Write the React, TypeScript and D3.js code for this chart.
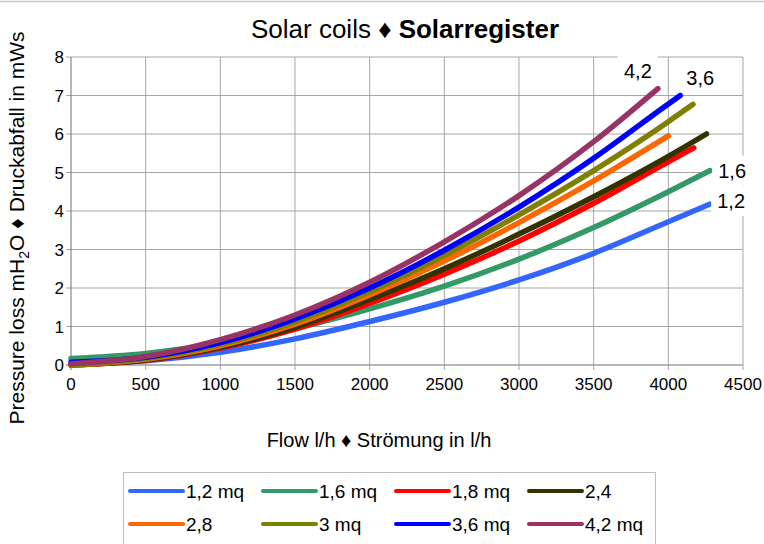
import React from 'react';
import * as d3 from 'd3';

// ---- data ----
const seriesNames = ['1,2 mq', '1,6 mq', '1,8 mq', '2,4', '2,8', '3 mq', '3,6 mq', '4,2 mq'];
const seriesColors = ['#3366FF', '#339966', '#FF0000', '#333300', '#FF6600', '#808000', '#0000FF', '#993366'];

const flow_1_2 = [0, 500, 1000, 1500, 2000, 2500, 3000, 3500, 4000, 4280];
const loss_1_2 = [0.02, 0.11, 0.33, 0.68, 1.13, 1.63, 2.21, 2.9, 3.72, 4.18];

const flow_1_6 = [0, 500, 1000, 1500, 2000, 2500, 3000, 3500, 4000, 4280];
const loss_1_6 = [0.17, 0.3, 0.57, 0.95, 1.46, 2.05, 2.75, 3.57, 4.5, 5.05];

const flow_1_8 = [0, 500, 1000, 1500, 2000, 2500, 3000, 3500, 4000, 4170];
const loss_1_8 = [0.0, 0.12, 0.44, 0.93, 1.6, 2.36, 3.22, 4.2, 5.28, 5.64];

const flow_2_4 = [0, 500, 1000, 1500, 2000, 2500, 3000, 3500, 4000, 4255];
const loss_2_4 = [0.0, 0.13, 0.46, 0.98, 1.7, 2.5, 3.4, 4.37, 5.42, 6.0];

const flow_2_8 = [0, 500, 1000, 1500, 2000, 2500, 3000, 3500, 4000];
const loss_2_8 = [0.0, 0.15, 0.5, 1.06, 1.82, 2.7, 3.7, 4.78, 5.95];

const flow_3 = [0, 500, 1000, 1500, 2000, 2500, 3000, 3500, 4000, 4165];
const loss_3 = [0.0, 0.17, 0.54, 1.12, 1.9, 2.84, 3.9, 5.05, 6.32, 6.77];

const flow_3_6 = [0, 500, 1000, 1500, 2000, 2500, 3000, 3500, 4000, 4080];
const loss_3_6 = [0.07, 0.2, 0.58, 1.2, 2.0, 2.98, 4.1, 5.37, 6.78, 7.0];

const flow_4_2 = [0, 500, 1000, 1500, 2000, 2500, 3000, 3500, 3930];
const loss_4_2 = [0.03, 0.22, 0.66, 1.3, 2.15, 3.2, 4.4, 5.8, 7.18];

const seriesFlows = [flow_1_2, flow_1_6, flow_1_8, flow_2_4, flow_2_8, flow_3, flow_3_6, flow_4_2];
const seriesLosses = [loss_1_2, loss_1_6, loss_1_8, loss_2_4, loss_2_8, loss_3, loss_3_6, loss_4_2];

const xTicks = [0, 500, 1000, 1500, 2000, 2500, 3000, 3500, 4000, 4500];
const yTicks = [0, 1, 2, 3, 4, 5, 6, 7, 8];

// end labels: series index and text
const endLabelSeries = [7, 6, 1, 0];
const endLabelTexts = ['4,2', '3,6', '1,6', '1,2'];
const endLabelOffsets = [[-20, -18], [20, -18], [22, 0], [21, -3]];

const W = 764;
const H = 544;
const FONT = 'Liberation Sans, Arial, Helvetica, sans-serif';

export default function App() {
  const x = d3.scaleLinear().domain([0, 4500]).range([71, 743]);
  const y = d3.scaleLinear().domain([0, 8]).range([365, 57]);

  const line = d3
    .line<[number, number]>()
    .x((d) => x(d[0]))
    .y((d) => y(d[1]))
    .curve(d3.curveMonotoneX);

  const series = seriesNames.map((name, i) => ({
    name,
    color: seriesColors[i],
    pts: seriesFlows[i].map((f, j) => [f, seriesLosses[i][j]] as [number, number]),
  }));

  const legendCols = [130, 263, 396, 529];
  const legendRows = [491, 524];

  return (
    <svg
      width={W}
      height={H}
      style={{ position: 'absolute', left: 0, top: 0, background: '#fff' }}
      fontFamily={FONT}
    >
      <rect x={0} y={0} width={W} height={H} fill="#fff" />
      <line x1={0} x2={W} y1={1.5} y2={1.5} stroke="#c8c8c8" strokeWidth={1.5} />

      {/* gridlines */}
      {yTicks.map((t) => (
        <line key={'gy' + t} x1={66} x2={743} y1={y(t)} y2={y(t)} stroke={t === 0 ? '#6e6e6e' : '#a6a6a6'} strokeWidth={1} />
      ))}
      {xTicks.map((t) => (
        <line key={'gx' + t} x1={x(t)} x2={x(t)} y1={57} y2={370} stroke={t === 0 ? '#6e6e6e' : '#a6a6a6'} strokeWidth={1} />
      ))}

      {/* tick labels */}
      {yTicks.map((t) => (
        <text key={'ty' + t} x={64} y={y(t) + 6} textAnchor="end" fontSize={17} fill="#000">
          {t}
        </text>
      ))}
      {xTicks.map((t) => (
        <text key={'tx' + t} x={x(t)} y={390} textAnchor="middle" fontSize={17} fill="#000">
          {t}
        </text>
      ))}

      {/* series */}
      {series.map((s) => (
        <path
          key={s.name}
          d={line(s.pts) || ''}
          fill="none"
          stroke={s.color}
          strokeWidth={5.5}
          strokeLinecap="round"
          strokeLinejoin="round"
        />
      ))}

      {/* end labels */}
      {endLabelSeries.map((si, k) => {
        const pts = series[si].pts;
        const last = pts[pts.length - 1];
        const cx = x(last[0]) + endLabelOffsets[k][0];
        const cy = y(last[1]) + endLabelOffsets[k][1];
        return (
          <g key={'el' + k}>
            <rect x={cx - 20} y={cy - 15} width={40} height={30} fill="#fff" />
            <text x={cx} y={cy + 7} textAnchor="middle" fontSize={20} fill="#000">
              {endLabelTexts[k]}
            </text>
          </g>
        );
      })}

      {/* title */}
      <text x={405} y={38} textAnchor="middle" fontSize={26} fill="#000">
        <tspan>Solar coils ♦ </tspan>
        <tspan fontWeight="bold">Solarregister</tspan>
      </text>

      {/* axis titles */}
      <text x={379} y={447} textAnchor="middle" fontSize={20} fill="#000">
        Flow l/h ♦ Strömung in l/h
      </text>
      <text transform="translate(24,228) rotate(-90)" textAnchor="middle" fontSize={21} fill="#000">
        <tspan>Pressure loss mH</tspan>
        <tspan fontSize={14} dy={5}>2</tspan>
        <tspan dy={-5}>O ♦ Druckabfall in mWs</tspan>
      </text>

      {/* legend */}
      <rect x={123.5} y={472.5} width={532} height={90} fill="#fff" stroke="#bdbdbd" strokeWidth={1} />
      {series.map((s, i) => {
        const cx = legendCols[i % 4];
        const cy = legendRows[Math.floor(i / 4)];
        return (
          <g key={'lg' + i}>
            <line x1={cx} x2={cx + 53} y1={cy} y2={cy} stroke={s.color} strokeWidth={4} strokeLinecap="round" />
            <text x={cx + 56} y={cy + 7} fontSize={19} fill="#000">
              {s.name}
            </text>
          </g>
        );
      })}
    </svg>
  );
}
